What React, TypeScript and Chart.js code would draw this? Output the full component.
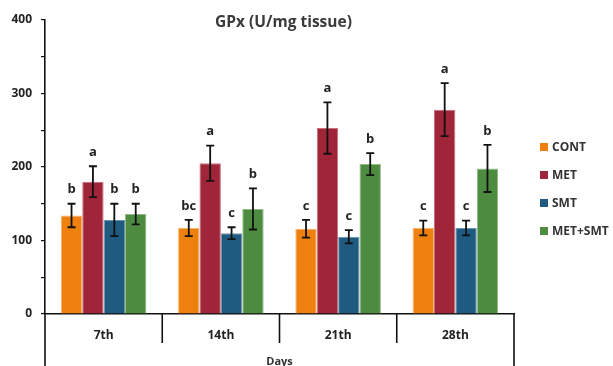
import React, { useEffect, useRef } from "react";
import { Chart, registerables } from "chart.js";

Chart.register(...registerables);

const categories = ["7th", "14th", "21th", "28th"];
const seriesNames = ["CONT", "MET", "SMT", "MET+SMT"];
const contValues = [134, 117, 116, 117];
const metValues = [180, 205, 253, 278];
const smtValues = [128, 110, 105, 117];
const comboValues = [136, 143, 204, 198];
const contErrors = [16, 11, 12, 10];
const metErrors = [21, 24, 35, 36];
const smtErrors = [22, 8, 9, 10];
const comboErrors = [14, 28, 15, 32];
const contLetters = ["b", "bc", "c", "c"];
const metLetters = ["a", "a", "a", "a"];
const smtLetters = ["b", "c", "c", "c"];
const comboLetters = ["b", "b", "b", "b"];
const yTicks = [0, 100, 200, 300, 400];

const colors = ["#EE8010", "#A02539", "#1F5A80", "#4D8B40"];
const borderColors = ["#F6B46A", "#C8707E", "#6F95AE", "#8FBA84"];
const FONT = "'Open Sans', 'Noto Sans', sans-serif";

const values = [contValues, metValues, smtValues, comboValues];
const errors = [contErrors, metErrors, smtErrors, comboErrors];
const letters = [contLetters, metLetters, smtLetters, comboLetters];

const overlay = {
  id: "overlay",
  afterDraw(chart: any) {
    const ctx = chart.ctx as CanvasRenderingContext2D;
    const { left, right, top, bottom } = chart.chartArea;
    const x = chart.scales.x;
    const y = chart.scales.y;
    const H = chart.height;
    ctx.save();
    // error bars & letters
    values.forEach((vals, di) => {
      const meta = chart.getDatasetMeta(di);
      meta.data.forEach((bar: any, i: number) => {
        const v = vals[i];
        const e = errors[di][i];
        const yt = y.getPixelForValue(v + e);
        const yb = y.getPixelForValue(v - e);
        const bx = bar.x;
        ctx.strokeStyle = "#111";
        ctx.lineWidth = 1.8;
        ctx.beginPath();
        ctx.moveTo(bx, yt);
        ctx.lineTo(bx, yb);
        ctx.moveTo(bx - 4, yt);
        ctx.lineTo(bx + 4, yt);
        ctx.moveTo(bx - 4, yb);
        ctx.lineTo(bx + 4, yb);
        ctx.stroke();
        ctx.fillStyle = "#222";
        ctx.font = `bold 13px ${FONT}`;
        ctx.textAlign = "center";
        ctx.textBaseline = "middle";
        ctx.fillText(letters[di][i], bx, yt - 14);
      });
    });
    // axis extensions
    ctx.strokeStyle = "#111";
    ctx.lineWidth = 1.6;
    ctx.beginPath();
    ctx.moveTo(left, bottom);
    ctx.lineTo(left, H);
    ctx.moveTo(right, bottom);
    ctx.lineTo(right, H);
    for (let i = 0; i < categories.length - 1; i++) {
      const sx = (x.getPixelForValue(i) + x.getPixelForValue(i + 1)) / 2;
      ctx.moveTo(sx, bottom);
      ctx.lineTo(sx, bottom + 29);
    }
    ctx.stroke();
    // title
    ctx.fillStyle = "#3a3a3a";
    ctx.font = `bold 15.5px ${FONT}`;
    ctx.textAlign = "center";
    ctx.textBaseline = "middle";
    ctx.fillText("GPx (U/mg tissue)", (left + right) / 2 + 4, 23);
    // legend
    ctx.font = `bold 12px ${FONT}`;
    ctx.textAlign = "left";
    seriesNames.forEach((name, i) => {
      const ly = 147 + i * 28;
      ctx.fillStyle = colors[i];
      ctx.fillRect(540, ly - 4, 8, 8);
      ctx.fillStyle = "#333";
      ctx.fillText(name, 552, ly + 1);
    });
    ctx.restore();
  },
};

export default function App() {
  const ref = useRef<HTMLCanvasElement | null>(null);
  useEffect(() => {
    if (!ref.current) return;
    const chart = new Chart(ref.current, {
      type: "bar",
      data: {
        labels: categories,
        datasets: seriesNames.map((name, i) => ({
          label: name,
          data: values[i],
          backgroundColor: colors[i],
          borderColor: borderColors[i],
          borderWidth: 1,
          categoryPercentage: 0.73,
          barPercentage: 1,
        })),
      },
      options: {
        responsive: false,
        animation: false,
        layout: { padding: { left: 0, right: 99, top: 20, bottom: 0 } },
        plugins: {
          legend: { display: false },
          title: { display: false },
          tooltip: { enabled: false },
        },
        scales: {
          x: {
            grid: { display: false },
            border: { display: true, color: "#111", width: 1.6 },
            ticks: {
              color: "#222",
              padding: 6,
              font: { family: FONT, size: 12, weight: "bold" },
            },
            title: {
              display: true,
              text: "Days",
              color: "#333",
              font: { family: FONT, size: 11, weight: "bold" },
              padding: { top: 0, bottom: -2 },
            },
            afterFit: (s: any) => {
              s.height = 52;
            },
          },
          y: {
            min: 0,
            max: 400,
            grid: {
              display: true,
              drawOnChartArea: false,
              drawTicks: true,
              tickLength: 4,
              color: "#111",
              lineWidth: 1.2,
            },
            border: { display: true, color: "#111", width: 1.6 },
            ticks: {
              stepSize: 50,
              padding: 9,
              color: "#222",
              font: { family: FONT, size: 12, weight: "bold" },
              callback: (v: any) => (yTicks.includes(Number(v)) ? String(v) : ""),
            },
            afterFit: (s: any) => {
              s.width = 45;
            },
          },
        },
      },
      plugins: [overlay],
    });
    return () => chart.destroy();
  }, []);
  return (
    <div style={{ position: "absolute", left: 0, top: 0, width: 613, height: 366, background: "#fff" }}>
      <canvas ref={ref} width={613} height={366} />
    </div>
  );
}
